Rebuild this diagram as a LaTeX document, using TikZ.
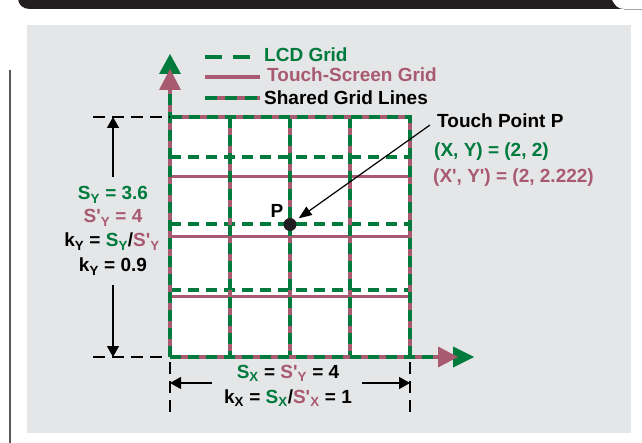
\documentclass[tikz,border=0pt]{standalone}
\usepackage{fontspec}
\newfontfamily\lsans{Liberation Sans}
\usetikzlibrary{arrows.meta}
\definecolor{lcdgreen}{RGB}{0,122,61}
\definecolor{tsred}{RGB}{168,90,112}
\definecolor{panel}{RGB}{229,230,231}
\definecolor{barblack}{RGB}{35,31,32}
\tikzset{
  lcd/.style={draw=lcdgreen,line width=4pt,dash pattern=on 11pt off 7pt},
  ts/.style={draw=tsred,line width=3pt},
  shared/.style={preaction={draw=tsred,line width=3.5pt,solid},draw=lcdgreen,line width=4pt,dash pattern=on 11pt off 7pt},
  dimline/.style={draw=black,line width=1.3pt,dash pattern=on 12pt off 7pt},
  dimarrow/.style={draw=black,line width=1.3pt,-{Triangle[length=11pt,width=12pt]}},
  txt/.style={inner sep=0pt},
  headg/.style={fill=lcdgreen},
  headr/.style={fill=tsred},
}
\newcommand{\sbs}[1]{\textsubscript{#1}}
\begin{document}
\begin{tikzpicture}[x=1pt,y=-1pt,font=\lsans\bfseries\fontsize{19}{22}\selectfont]
\useasboundingbox (0,0) rectangle (642,443);
% top bar
\fill[barblack] (18,-2) -- (611,-2) -- (612,0) .. controls (615,6) and (618,9) .. (624,9) -- (30,9) .. controls (23,9) and (18,5) .. (18,-2) -- cycle;
\draw[black!35,line width=0.8pt] (624,9) -- (642,9);
% panel
\fill[panel] (27,25) rectangle (631,433);
\draw[black!65,line width=2pt] (10,70) -- (10,443);
% grid
\coordinate (O) at (170,357);
\fill[white] (170,117) rectangle (410,357);
\foreach \yy in {177,237,297} \draw[ts] (170,\yy) -- (410,\yy);
\foreach \yy in {157,223.7,290.3} \draw[lcd] (170,\yy) -- (410,\yy);
\foreach \xx in {230,290,350} \path[shared] (\xx,117) -- (\xx,357);
\path[shared] (410,357) -- (410,117) -- (170,117);
% axes
\coordinate (Yend) at (170,89);
\coordinate (Xend) at (438,357);
\path[shared] (O) -- (Yend);
\path[shared] (O) -- (Xend);
\fill[headg] (170,54) -- (181,74) -- (159,74) -- cycle;
\fill[headr] (170,69) -- (181,90) -- (159,90) -- cycle;
\fill[headg] (474,357) -- (453,346.5) -- (453,367.5) -- cycle;
\fill[headr] (458,357) -- (438,346.5) -- (438,367.5) -- cycle;
% legend
\draw[draw=lcdgreen,line width=4pt,dash pattern=on 17pt off 11pt] (205,57) -- (250,57);
\draw[ts,line width=3.5pt] (205,77) -- (260,77);
\path[shared,dash pattern=on 12pt off 8pt] (205,98) -- (260,98);
\node[txt,anchor=base west,text=lcdgreen] (lg1) at (264,62) {LCD Grid};
\node[txt,anchor=base west,text=tsred] (lg2) at (267,82) {Touch-Screen Grid};
\node[txt,anchor=base west,text=black] (lg3) at (264,105) {Shared Grid Lines};
% touch point
\node[circle,fill=barblack,minimum size=13pt,inner sep=0pt] (Pdot) at (290,224.5) {};
\node[txt,anchor=base] (Plab) at (277,218) {P};
\node[txt,anchor=base west] (tp) at (437,128) {Touch Point P};
\node[txt,anchor=base west,text=lcdgreen] (xy) at (434,157) {(X, Y) = (2, 2)};
\node[txt,anchor=base west,text=tsred] (xyp) at (433,183) {(X', Y') = (2, 2.222)};
\coordinate (tpstart) at ([xshift=-7pt,yshift=3pt]tp.base west);
\draw[line width=1.2pt,-{Triangle[length=13pt,width=10pt]},shorten >=4pt] (tpstart) -- (Pdot);
% Y dimension
\draw[dimline] (93,117) -- (170,117);
\draw[dimline] (93,357) -- (165,357);
\coordinate (ytop) at (113,117);
\coordinate (ybot) at (113,357);
\draw[dimarrow] (113,177) -- (ytop);
\draw[dimarrow] (113,285) -- (ybot);
\node[txt,anchor=base,text=lcdgreen] (sy) at (113,200) {S\sbs{Y} = 3.6};
\node[txt,anchor=base,text=tsred] (syp) at (113,223) {S'\sbs{Y} = 4};
\node[txt,anchor=base] (ky) at (112,247) {k\sbs{Y} = \textcolor{lcdgreen}{S\sbs{Y}}/\textcolor{tsred}{S'\sbs{Y}}};
\node[txt,anchor=base] (ky2) at (113,272) {k\sbs{Y} = 0.9};
% X dimension
\draw[dimline] (170,362) -- (170,412);
\draw[dimline] (410,362) -- (410,412);
\coordinate (xleft) at (170,383);
\coordinate (xright) at (410,383);
\draw[dimarrow] (212,383) -- (xleft);
\draw[dimarrow] (362,383) -- (xright);
\node[txt,anchor=base] (sx) at (288,378) {\textcolor{lcdgreen}{S\sbs{X}} = \textcolor{tsred}{S'\sbs{Y}} = 4};
\node[txt,anchor=base] (kx) at (288,403) {k\sbs{X} = \textcolor{lcdgreen}{S\sbs{X}}/\textcolor{tsred}{S'\sbs{X}} = 1};
\end{tikzpicture}
\end{document}
